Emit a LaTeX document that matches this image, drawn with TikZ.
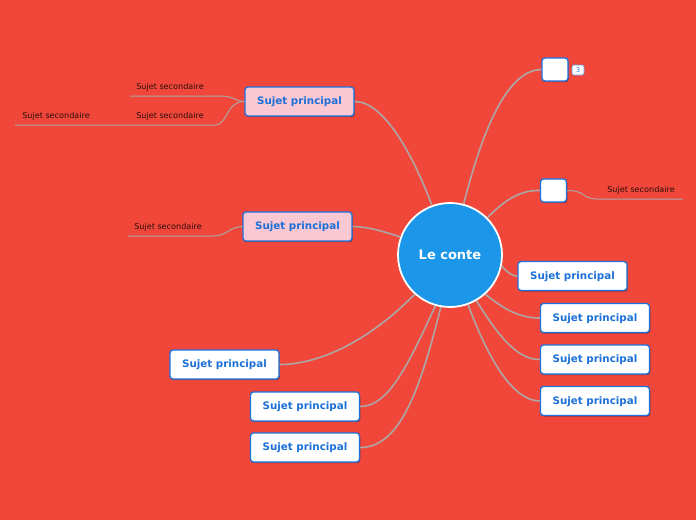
\documentclass[tikz,border=0pt]{standalone}
\usepackage{fontspec}
\setmainfont{DejaVu Sans}
\usetikzlibrary{shadows}
\definecolor{bg}{HTML}{F1473B}
\definecolor{hub}{HTML}{1B96E8}
\definecolor{edge}{HTML}{1A73E0}
\definecolor{txt}{HTML}{1A6FD8}
\definecolor{pinkfill}{HTML}{FAC8D2}
\definecolor{link}{HTML}{ADA6A4}
\definecolor{sectxt}{HTML}{2A0E0C}
\tikzset{
  x=1pt,y=-1pt,
  topic/.style={draw=edge,line width=1.3pt,rounded corners=3pt,fill=white,
    minimum width=109pt,minimum height=29pt,inner sep=0pt,text depth=1pt,
    font=\fontsize{10.3}{12}\selectfont\bfseries,text=txt,
    drop shadow={shadow xshift=0.8pt,shadow yshift=-1.2pt,opacity=0.35,fill=black}},
  pinktopic/.style={topic,fill=pinkfill},
  emptybox/.style={topic,minimum width=26pt,minimum height=23pt},
  sub/.style={font=\fontsize{8.1}{10}\selectfont,text=sectxt,inner sep=0pt,text depth=1pt},
  conn/.style={draw=link,line width=1.6pt},
  subline/.style={draw=link,line width=1pt},
  badge/.style={draw=edge!70!white,line width=0.6pt,rounded corners=2pt,fill=white,
    minimum width=12pt,minimum height=10pt,inner sep=0pt,
    font=\fontsize{6.3}{7}\selectfont,text=txt}
}
\begin{document}
\begin{tikzpicture}
\fill[bg] (0,0) rectangle (696,520);
\useasboundingbox (0,0) rectangle (696,520);

\coordinate (hc) at (450,255);

\node[pinktopic] (p1) at (299.5,101.5) {Sujet principal};
\node[pinktopic] (p2) at (297.5,226.5) {Sujet principal};
\node[emptybox] (e1) at (555,69.5) {};
\node[badge] (b1) at (578,70) {3};
\node[emptybox] (e2) at (553.5,190.5) {};
\node[topic] (r1) at (572.5,276) {Sujet principal};
\node[topic] (r2) at (595,318) {Sujet principal};
\node[topic] (r3) at (595,359.5) {Sujet principal};
\node[topic] (r4) at (595,401) {Sujet principal};
\node[topic] (l1) at (224.5,364.5) {Sujet principal};
\node[topic] (l2) at (305,406.5) {Sujet principal};
\node[topic] (l3) at (305,447.5) {Sujet principal};

% sub topics
\node[sub] (s1) at (170,87) {Sujet secondaire};
\node[sub] (s2) at (170,116) {Sujet secondaire};
\node[sub] (s3) at (56,116) {Sujet secondaire};
\node[sub] (s4) at (168,227) {Sujet secondaire};
\node[sub] (s5) at (641,190) {Sujet secondaire};
\coordinate (s1a) at (130,96);
\coordinate (s1b) at (220,96);
\coordinate (s2a) at (130,125);
\coordinate (s2b) at (215,125);
\coordinate (s3a) at (15,125);
\coordinate (s4a) at (128,236);
\coordinate (s4b) at (213,236);
\coordinate (s5a) at (597,199);
\coordinate (s5b) at (683,199);

\draw[subline] (s1a) -- (s1b) .. controls (233,96) and (235,101) .. (p1.west);
\draw[subline] (s3a) -- (s2a) -- (s2b) .. controls (228,125) and (226,101) .. (p1.west);
\draw[subline] (s4a) -- (s4b) .. controls (228,236) and (228,227) .. (p2.west);
\draw[subline] (e2.east) .. controls (585,190) and (582,199) .. (s5a) -- (s5b);

% hub
\node[circle,draw=white,line width=1.8pt,fill=hub,minimum size=104pt,inner sep=0pt,
  text=white,font=\fontsize{13}{15}\selectfont\bfseries] (c) at (hc) {Le conte};

\draw[conn] (c.110) .. controls (415,160) and (385,101) .. (p1.east);
\draw[conn] (c.160) .. controls (385,232) and (370,227) .. (p2.east);
\draw[conn] (c.75) .. controls (485,120) and (510,70) .. (e1.west);
\draw[conn] (c.45) .. controls (505,200) and (520,190) .. (e2.west);
\draw[conn] (c.-12) .. controls (508,273) and (512,276) .. (r1.west);
\draw[conn] (c.-48) .. controls (505,310) and (520,318) .. (r2.west);
\draw[conn] (c.-60) .. controls (495,330) and (515,360) .. (r3.west);
\draw[conn] (c.-70) .. controls (485,350) and (510,401) .. (r4.west);
\draw[conn] (c.-132) .. controls (370,340) and (320,364.5) .. (l1.east);
\draw[conn] (c.-106) .. controls (410,360) and (390,406.5) .. (l2.east);
\draw[conn] (c.-100) .. controls (420,390) and (400,447.5) .. (l3.east);
\end{tikzpicture}
\end{document}
